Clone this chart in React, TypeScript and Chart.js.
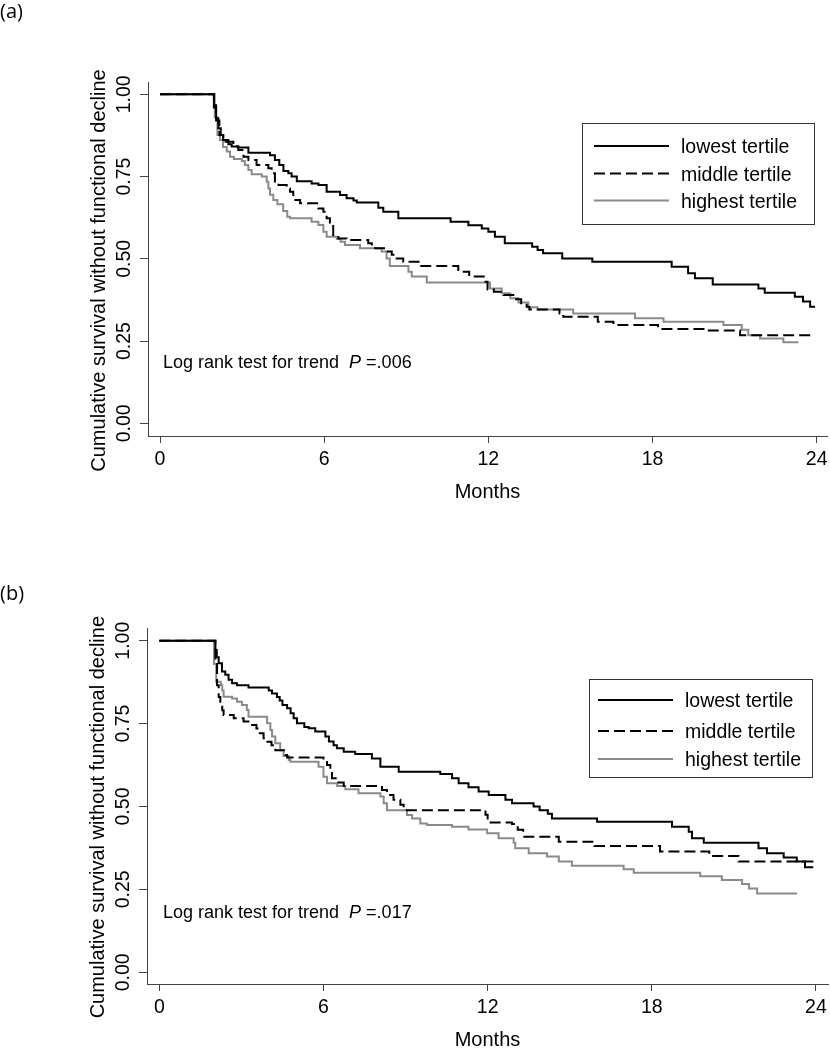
import React, { useEffect, useRef } from 'react';
import { Chart, registerables } from 'chart.js';

Chart.register(...registerables);

const FONT = '"Liberation Sans", Arial, Helvetica, sans-serif';
const LABEL_FONT = '"Open Sans", "Liberation Sans", sans-serif';
const AXIS_COLOR = '#444444';

// ---------- texts / ticks ----------
const xTickValues = [0, 6, 12, 18, 24];
const yTickValues = [0, 0.25, 0.5, 0.75, 1];
const seriesNames = ['lowest tertile', 'middle tertile', 'highest tertile'];
const xAxisTitle = 'Months';
const yAxisTitle = 'Cumulative survival without functional decline';
const noteText = 'Log rank test for trend';
const panelLabels = ['(a)', '(b)'];
const pValues = ['.006', '.017'];

// ---------- panel (a) ----------
const aLowestMonths = [0, 1.93, 1.97, 2.05, 2.13, 2.22, 2.31, 2.5, 2.62, 2.86, 3.23, 4.02, 4.2, 4.36, 4.51, 4.69, 4.81, 5.0, 5.54, 5.79, 6.09, 6.58, 6.82, 7.07, 7.19, 7.98, 8.16, 8.71, 10.62, 11.27, 11.76, 12.0, 12.24, 12.6, 13.6, 13.8, 14.0, 14.7, 15.8, 18.7, 19.3, 19.55, 20.2, 21.87, 22.1, 23.2, 23.5, 23.76, 23.94];
const aLowestSurv = [1, 1, 0.967, 0.927, 0.897, 0.876, 0.861, 0.848, 0.841, 0.838, 0.822, 0.815, 0.8, 0.785, 0.767, 0.76, 0.75, 0.736, 0.729, 0.724, 0.704, 0.694, 0.684, 0.677, 0.671, 0.655, 0.643, 0.623, 0.613, 0.602, 0.592, 0.582, 0.567, 0.547, 0.537, 0.527, 0.517, 0.501, 0.491, 0.476, 0.456, 0.441, 0.422, 0.41, 0.397, 0.385, 0.37, 0.354, 0.354];

const aMiddleMonths = [0, 1.93, 1.97, 2.05, 2.17, 2.31, 2.68, 2.86, 3.05, 3.23, 3.53, 3.96, 4.08, 4.2, 4.33, 4.63, 4.75, 4.87, 5.12, 5.79, 5.97, 6.09, 6.21, 6.33, 6.52, 6.82, 7.61, 7.74, 8.28, 8.47, 8.65, 8.89, 9.5, 10.9, 11.3, 11.9, 11.97, 12.2, 12.55, 12.97, 13.2, 13.4, 13.5, 14.6, 14.74, 16.0, 16.57, 18.2, 19.86, 21.2, 23.94];
const aMiddleSurv = [1, 1, 0.96, 0.92, 0.876, 0.856, 0.841, 0.831, 0.81, 0.8, 0.785, 0.775, 0.76, 0.73, 0.724, 0.714, 0.704, 0.679, 0.669, 0.653, 0.643, 0.623, 0.603, 0.572, 0.562, 0.557, 0.547, 0.532, 0.522, 0.512, 0.501, 0.491, 0.478, 0.461, 0.446, 0.43, 0.407, 0.4, 0.39, 0.377, 0.365, 0.354, 0.346, 0.334, 0.324, 0.309, 0.299, 0.287, 0.282, 0.268, 0.268];

const aHighestMonths = [0, 1.95, 2.0, 2.1, 2.19, 2.3, 2.44, 2.56, 2.7, 2.99, 3.1, 3.23, 3.35, 3.72, 3.9, 3.96, 4.02, 4.14, 4.29, 4.5, 4.65, 4.75, 5.54, 5.79, 5.97, 6.09, 6.46, 6.6, 6.76, 7.31, 8.1, 8.28, 8.4, 9.08, 9.2, 9.75, 12.06, 12.49, 12.8, 13.1, 13.46, 13.8, 15.1, 17.36, 18.4, 20.59, 21.26, 21.5, 21.93, 22.78, 23.33];
const aHighestSurv = [1, 1, 0.93, 0.876, 0.861, 0.84, 0.826, 0.81, 0.803, 0.797, 0.785, 0.77, 0.757, 0.75, 0.734, 0.714, 0.695, 0.679, 0.666, 0.645, 0.628, 0.623, 0.613, 0.603, 0.582, 0.567, 0.56, 0.552, 0.542, 0.532, 0.522, 0.501, 0.478, 0.461, 0.446, 0.428, 0.41, 0.395, 0.38, 0.367, 0.353, 0.346, 0.334, 0.319, 0.309, 0.299, 0.284, 0.268, 0.258, 0.246, 0.246];

// ---------- panel (b) ----------
const bLowestMonths = [0, 1.96, 2.05, 2.1, 2.17, 2.29, 2.41, 2.53, 2.66, 2.84, 3.26, 4.0, 4.12, 4.3, 4.4, 4.5, 4.67, 4.8, 4.91, 5.03, 5.3, 5.46, 5.7, 6.07, 6.2, 6.37, 6.49, 6.74, 7.16, 7.77, 8.08, 8.75, 10.27, 10.7, 10.94, 11.3, 11.67, 12.04, 12.65, 12.89, 13.68, 13.9, 14.2, 14.35, 16.0, 18.74, 19.35, 19.47, 19.9, 21.9, 22.21, 22.82, 23.3, 23.6, 23.9];
const bLowestSurv = [1, 1, 0.972, 0.95, 0.932, 0.907, 0.897, 0.882, 0.872, 0.866, 0.859, 0.85, 0.841, 0.83, 0.82, 0.806, 0.796, 0.781, 0.766, 0.751, 0.74, 0.736, 0.726, 0.711, 0.696, 0.685, 0.676, 0.665, 0.658, 0.645, 0.62, 0.605, 0.598, 0.585, 0.57, 0.558, 0.545, 0.535, 0.52, 0.51, 0.5, 0.489, 0.478, 0.464, 0.454, 0.439, 0.424, 0.404, 0.391, 0.374, 0.359, 0.346, 0.334, 0.317, 0.317];

const bMiddleMonths = [0, 1.98, 2.05, 2.11, 2.17, 2.23, 2.3, 2.35, 2.72, 3.08, 3.33, 3.55, 3.63, 3.81, 3.95, 4.1, 4.24, 4.6, 4.67, 6.0, 6.13, 6.25, 6.31, 6.5, 6.74, 8.14, 8.32, 8.56, 8.81, 8.93, 11.92, 12.0, 12.89, 13.1, 13.3, 14.6, 15.9, 18.3, 20.1, 21.17, 23.98];
const bMiddleSurv = [1, 1, 0.93, 0.866, 0.83, 0.811, 0.79, 0.776, 0.766, 0.756, 0.746, 0.735, 0.721, 0.706, 0.695, 0.685, 0.67, 0.655, 0.648, 0.64, 0.625, 0.605, 0.585, 0.572, 0.562, 0.55, 0.535, 0.52, 0.505, 0.489, 0.475, 0.452, 0.447, 0.43, 0.409, 0.394, 0.381, 0.364, 0.351, 0.334, 0.334];

const bHighestMonths = [0, 1.96, 2.0, 2.08, 2.25, 2.3, 2.35, 2.66, 2.84, 3.02, 3.2, 3.26, 3.94, 4.06, 4.12, 4.24, 4.42, 4.54, 4.73, 4.79, 5.82, 6.0, 6.13, 6.5, 6.8, 7.28, 8.08, 8.2, 8.32, 9.05, 9.24, 9.54, 9.78, 10.7, 11.3, 11.98, 12.4, 12.95, 13.01, 13.5, 14.17, 14.6, 15.08, 16.97, 17.34, 19.77, 20.56, 21.3, 21.55, 21.85, 23.31];
const bHighestSurv = [1, 1, 0.93, 0.876, 0.866, 0.85, 0.831, 0.826, 0.816, 0.806, 0.791, 0.771, 0.751, 0.731, 0.711, 0.691, 0.67, 0.652, 0.64, 0.635, 0.62, 0.59, 0.57, 0.562, 0.552, 0.54, 0.53, 0.51, 0.489, 0.474, 0.464, 0.449, 0.444, 0.439, 0.431, 0.419, 0.404, 0.391, 0.374, 0.359, 0.349, 0.334, 0.321, 0.311, 0.3, 0.29, 0.278, 0.266, 0.253, 0.238, 0.238];

// ---------- styles ----------
const seriesStyles = [
  { color: '#000000', dash: [] as number[] },
  { color: '#000000', dash: [11, 5] },
  { color: '#8a8a8a', dash: [] as number[] },
];

// ---------- layout (pixels, per panel) ----------
const layoutA = {
  top: 0, height: 525,
  chartLeft: 148, chartRight: 827, chartTop: 82, chartBottom: 436,
  xMin: -0.4386, xMax: 24.376, yMin: -0.0386, yMax: 1.0374,
  labelBaseline: 18, yTitleX: 99, yTitleShift: 11.5,
  noteX: 163, noteBaseline: 368.3,
  legend: { x: 582, y: 123, w: 232, h: 101, lineX0: 594, lineX1: 669, textX: 681, rows: [146, 173.5, 200.5] },
};
const layoutB = {
  top: 525, height: 525,
  chartLeft: 147, chartRight: 828, chartTop: 103.3, chartBottom: 459,
  xMin: -0.45, xMax: 24.44, yMin: -0.0353, yMax: 1.0374,
  labelBaseline: 75, yTitleX: 98.5, yTitleShift: 11,
  noteX: 163, noteBaseline: 392.7,
  legend: { x: 589, y: 154, w: 223, h: 98, lineX0: 598, lineX1: 673, textX: 685, rows: [175, 206, 234] },
};

const X_AXIS_H = 62;

const overlayPlugin = {
  id: 'kmOverlay',
  afterDraw(chart: any, _args: any, opts: any) {
    const { ctx, chartArea } = chart;
    const L = opts.layout;
    ctx.save();
    ctx.fillStyle = '#000';
    // panel label
    ctx.font = `20px ${LABEL_FONT}`;
    ctx.textAlign = 'left';
    ctx.textBaseline = 'alphabetic';
    ctx.fillText(opts.label, 0, L.labelBaseline);
    // y axis title
    ctx.save();
    ctx.translate(L.yTitleX, (chartArea.top + chartArea.bottom) / 2 + L.yTitleShift);
    ctx.rotate(-Math.PI / 2);
    ctx.font = `20px ${FONT}`;
    ctx.textAlign = 'center';
    ctx.textBaseline = 'middle';
    ctx.fillText(yAxisTitle, 0, 0);
    ctx.restore();
    // note
    ctx.font = `18px ${FONT}`;
    ctx.textAlign = 'left';
    ctx.textBaseline = 'alphabetic';
    ctx.fillText(noteText, L.noteX, L.noteBaseline);
    let x = L.noteX + ctx.measureText(noteText + '  ').width;
    ctx.font = `italic 18px ${FONT}`;
    ctx.fillText('P', x, L.noteBaseline);
    x += ctx.measureText('P').width;
    ctx.font = `18px ${FONT}`;
    x += ctx.measureText(' ').width;
    ctx.fillText('=' + opts.pValue, x, L.noteBaseline);
    // legend
    const g = L.legend;
    ctx.strokeStyle = '#333333';
    ctx.lineWidth = 1;
    ctx.strokeRect(Math.round(g.x) + 0.5, Math.round(g.y) + 0.5, Math.round(g.w), Math.round(g.h));
    ctx.font = `19.5px ${FONT}`;
    ctx.textBaseline = 'middle';
    chart.data.datasets.forEach((ds: any, i: number) => {
      const y = g.rows[i];
      ctx.beginPath();
      ctx.setLineDash(ds.borderDash || []);
      ctx.strokeStyle = ds.borderColor;
      ctx.lineWidth = ds.borderWidth;
      ctx.moveTo(g.lineX0, y);
      ctx.lineTo(g.lineX1, y);
      ctx.stroke();
      ctx.setLineDash([]);
      ctx.fillStyle = '#000';
      ctx.fillText(ds.label, g.textX, y + 2);
    });
    ctx.restore();
  },
};

type Series = { months: number[]; surv: number[] };

function Panel({ series, layout, label, pValue }: { series: Series[]; layout: any; label: string; pValue: string }) {
  const ref = useRef<HTMLCanvasElement>(null);
  useEffect(() => {
    const canvas = ref.current;
    if (!canvas) return;
    const datasets = series.map((s, i) => ({
      label: seriesNames[i],
      data: s.months.map((m, j) => ({ x: m, y: s.surv[j] })),
      borderColor: seriesStyles[i].color,
      backgroundColor: seriesStyles[i].color,
      borderDash: seriesStyles[i].dash,
      borderWidth: 2,
      stepped: 'before' as const,
      pointRadius: 0,
      pointHoverRadius: 0,
      fill: false,
      tension: 0,
      borderCapStyle: 'butt' as const,
      borderJoinStyle: 'miter' as const,
    }));
    const chart = new Chart(canvas, {
      type: 'line',
      data: { datasets: datasets.slice().reverse().reverse() },
      options: {
        animation: false,
        responsive: false,
        maintainAspectRatio: false,
        events: [],
        layout: {
          padding: {
            left: 0,
            top: layout.chartTop,
            right: 830 - layout.chartRight,
            bottom: layout.height - layout.chartBottom - X_AXIS_H,
          },
        },
        plugins: {
          legend: { display: false },
          tooltip: { enabled: false },
          title: { display: false },
          kmOverlay: { layout, label, pValue },
        } as any,
        scales: {
          x: {
            type: 'linear',
            min: layout.xMin,
            max: layout.xMax,
            afterBuildTicks: (axis: any) => {
              axis.ticks = xTickValues.map((v) => ({ value: v }));
            },
            afterFit: (axis: any) => {
              axis.height = X_AXIS_H;
              axis.paddingLeft = 0;
              axis.paddingRight = 0;
            },
            ticks: {
              color: '#000',
              font: { family: FONT, size: 19.5 },
              padding: 5,
              maxRotation: 0,
              minRotation: 0,
              autoSkip: false,
              callback: (v: any) => String(v),
            },
            grid: { drawOnChartArea: false, drawTicks: true, tickLength: 7, tickColor: AXIS_COLOR, tickWidth: 1 },
            border: { display: true, color: AXIS_COLOR, width: 1 },
            title: {
              display: true,
              text: xAxisTitle,
              color: '#000',
              font: { family: FONT, size: 20, lineHeight: 1 },
              padding: { top: 0, bottom: -4.5 },
            },
          },
          y: {
            type: 'linear',
            min: layout.yMin,
            max: layout.yMax,
            afterBuildTicks: (axis: any) => {
              axis.ticks = yTickValues.map((v) => ({ value: v }));
            },
            afterFit: (axis: any) => {
              axis.width = layout.chartLeft;
              axis.paddingTop = 0;
              axis.paddingBottom = 0;
            },
            ticks: {
              color: '#000',
              font: { family: FONT, size: 19.5 },
              padding: -4,
              minRotation: 90,
              maxRotation: 90,
              crossAlign: 'center',
              autoSkip: false,
              callback: (v: any) => Number(v).toFixed(2),
            },
            grid: { drawOnChartArea: false, drawTicks: true, tickLength: 8, tickColor: AXIS_COLOR, tickWidth: 1 },
            border: { display: true, color: AXIS_COLOR, width: 1 },
            title: { display: false },
          },
        },
      } as any,
      plugins: [overlayPlugin],
    });
    return () => chart.destroy();
  }, []);
  return (
    <canvas
      ref={ref}
      width={830}
      height={layout.height}
      style={{ position: 'absolute', left: 0, top: layout.top, width: 830, height: layout.height }}
    />
  );
}

export default function App() {
  const seriesA: Series[] = [
    { months: aLowestMonths, surv: aLowestSurv },
    { months: aMiddleMonths, surv: aMiddleSurv },
    { months: aHighestMonths, surv: aHighestSurv },
  ];
  const seriesB: Series[] = [
    { months: bLowestMonths, surv: bLowestSurv },
    { months: bMiddleMonths, surv: bMiddleSurv },
    { months: bHighestMonths, surv: bHighestSurv },
  ];
  return (
    <div style={{ position: 'absolute', left: 0, top: 0, width: 830, height: 1050, background: '#ffffff', overflow: 'hidden' }}>
      <Panel series={seriesA} layout={layoutA} label={panelLabels[0]} pValue={pValues[0]} />
      <Panel series={seriesB} layout={layoutB} label={panelLabels[1]} pValue={pValues[1]} />
    </div>
  );
}
